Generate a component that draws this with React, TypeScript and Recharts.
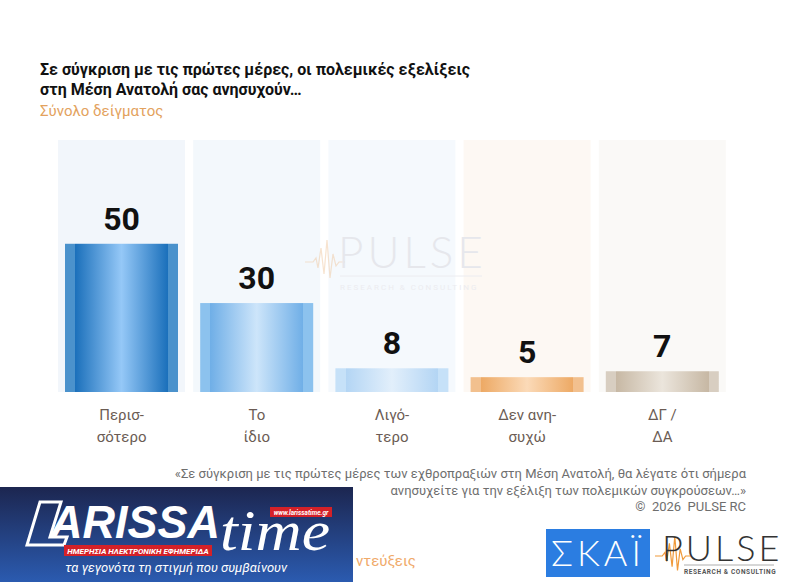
import React from "react";
import { BarChart, Bar, XAxis, YAxis, LabelList } from "recharts";

// answer categories (line break = \n) and percentages
const categories = ["Περισ-\nσότερο", "Το\nίδιο", "Λιγό-\nτερο", "Δεν ανη-\nσυχώ", "ΔΓ /\nΔΑ"];
const values = [50, 30, 8, 5, 7];

const title1 = "Σε σύγκριση με τις πρώτες μέρες, οι πολεμικές εξελίξεις";
const title2 = "στη Μέση Ανατολή σας ανησυχούν…";
const subtitle = "Σύνολο δείγματος";
const note1 = "«Σε σύγκριση με τις πρώτες μέρες των εχθροπραξιών στη Μέση Ανατολή, θα λέγατε ότι σήμερα";
const note2 = "ανησυχείτε για την εξέλιξη των πολεμικών συγκρούσεων…»";
const copyright = "©  2026  PULSE RC";

// per-bar palette: column background, edge strip, inner dark, centre highlight
const colBg = ["#f2f6fb", "#f3f8fc", "#f5f9fd", "#fdf8f3", "#faf9f7"];
const edge = ["#4b92cc", "#8cc2ee", "#c6e1f8", "#f2c08e", "#d8cec1"];
const dark = ["#1b70bb", "#70afe7", "#b3d5f4", "#eda964", "#c7b8a4"];
const light = ["#95c8f7", "#cde5fa", "#e2effb", "#fbdab8", "#ebe5dc"];

const data = categories.map((c, i) => ({ name: c, value: values[i] }));

const FONT = "Roboto, 'Noto Sans', sans-serif";

const BarShape = (props: any) => {
  const { x, y, width, height, index } = props;
  const inset = 7;
  return <rect x={x + inset} y={y} width={width - inset * 2} height={height} fill={`url(#grad${index})`} />;
};

const BgShape = (props: any) => {
  const { x, y, width, height, index } = props;
  return <rect x={x} y={y} width={width} height={height} fill={colBg[index]} />;
};

const Tick = (props: any) => {
  const { x, y, payload } = props;
  const lines = String(payload.value).split("\n");
  return (
    <g>
      {lines.map((l, i) => (
        <text key={i} x={x} y={y + 20 + i * 22} textAnchor="middle" fontFamily={FONT} fontSize={15} fill="#6b5c54">
          {l}
        </text>
      ))}
    </g>
  );
};

const Wave = ({ x, y, s, color, opacity }: any) => {
  const pts = [
    [0, 0], [8, 0], [11, -4], [13, 6], [16, -14], [19, 12], [22, -22], [25, 16], [28, -8], [31, 4], [34, 0], [40, 0],
  ].map(([a, b]) => `${x + a * s},${y + b * s}`).join(" ");
  return <polyline points={pts} fill="none" stroke={color} strokeWidth={1.2} opacity={opacity} />;
};

export default function App() {
  return (
    <div style={{ position: "fixed", left: 0, top: 0, width: 788, height: 582, background: "#fff", overflow: "hidden", fontFamily: FONT }}>
      <div style={{ position: "absolute", left: 40, top: 60, fontSize: 16, fontWeight: 700, color: "#111", lineHeight: "20px", whiteSpace: "nowrap" }}>
        <div>{title1}</div>
        <div>{title2}</div>
      </div>
      <div style={{ position: "absolute", left: 40, top: 102, fontSize: 15, color: "#e3a25e", whiteSpace: "nowrap" }}>{subtitle}</div>

      <div style={{ position: "absolute", left: 0, top: 0 }}>
        <BarChart width={788} height={582} data={data} margin={{ top: 140, right: 58, bottom: 130, left: 54 }} barSize={127}>
          <defs>
            {values.map((_, i) => (
              <linearGradient key={i} id={`grad${i}`} x1="0" y1="0" x2="1" y2="0">
                <stop offset="0" stopColor={edge[i]} />
                <stop offset="0.09" stopColor={edge[i]} />
                <stop offset="0.091" stopColor={dark[i]} />
                <stop offset="0.5" stopColor={light[i]} />
                <stop offset="0.909" stopColor={dark[i]} />
                <stop offset="0.91" stopColor={edge[i]} />
                <stop offset="1" stopColor={edge[i]} />
              </linearGradient>
            ))}
          </defs>
          <XAxis dataKey="name" axisLine={false} tickLine={false} height={60} interval={0} tick={<Tick />} />
          <YAxis hide domain={[0, 85]} />
          <Bar dataKey="value" isAnimationActive={false} shape={<BarShape />} background={<BgShape />}>
            <LabelList dataKey="value" position="top" offset={14} fontFamily={FONT} fontSize={32} fontWeight={700} fill="#111" />
          </Bar>
        </BarChart>
      </div>

      {/* watermark + logos */}
      <svg width={788} height={582} style={{ position: "absolute", left: 0, top: 0, pointerEvents: "none" }}>
        <Wave x={305} y={262} s={1} color="#f0c8a0" opacity={0.5} />
        <text x={338} y={268} fontFamily="Lato, sans-serif" fontWeight={300} fontSize={44} letterSpacing={4} fill="#e6e7ec">PULSE</text>
        <line x1={340} y1={276} x2={482} y2={276} stroke="#ececf0" strokeWidth={1} />
        <text x={340} y={290} fontFamily={FONT} fontSize={8} letterSpacing={2} fill="#ececf0">RESEARCH &amp; CONSULTING</text>

        <text x={746} y={478} textAnchor="end" fontFamily={FONT} fontSize={13} fill="#6e6e6e">{note1}</text>
        <text x={746} y={495} textAnchor="end" fontFamily={FONT} fontSize={13} fill="#6e6e6e">{note2}</text>
        <text x={746} y={511} textAnchor="end" fontFamily={FONT} fontSize={13} fill="#6e6e6e" style={{ whiteSpace: "pre" }}>{copyright}</text>

        <defs>
          <linearGradient id="lt" x1="0" y1="0" x2="0" y2="1">
            <stop offset="0" stopColor="#1c2650" />
            <stop offset="1" stopColor="#2b5bb0" />
          </linearGradient>
        </defs>
        <rect x={0} y={487} width={353} height={95} fill="url(#lt)" />
        <path d="M40 502 L61 502 L50 537 L67 537 L64 545 L27 545 Z" fill="none" stroke="#fff" strokeWidth={3} />
        <text x={50} y={538} fontFamily="'Liberation Sans', sans-serif" fontStyle="italic" fontWeight={700} fontSize={46} fill="#fff" textLength={170} lengthAdjust="spacingAndGlyphs">ARISSA</text>
        <text x={220} y={550} fontFamily="'Liberation Serif', serif" fontStyle="italic" fontSize={58} fill="#fff" textLength={110} lengthAdjust="spacingAndGlyphs">time</text>
        <rect x={270} y={507} width={62} height={10} fill="#d42128" />
        <text x={301} y={514.5} textAnchor="middle" fontFamily={FONT} fontStyle="italic" fontWeight={700} fontSize={6.5} fill="#fff">www.larissatime.gr</text>
        <rect x={64} y={545} width={148} height={11} fill="#d42128" />
        <text x={138} y={553.5} textAnchor="middle" fontFamily={FONT} fontStyle="italic" fontWeight={700} fontSize={8} fill="#fff">ΗΜΕΡΗΣΙΑ ΗΛΕΚΤΡΟΝΙΚΗ ΕΦΗΜΕΡΙΔΑ</text>
        <text x={176} y={572} textAnchor="middle" fontFamily={FONT} fontStyle="italic" fontSize={13} fill="#fff">τα γεγονότα τη στιγμή που συμβαίνουν</text>
        <text x={356} y={566} fontFamily={FONT} fontSize={15} fill="#f0aa6a">ντεύξεις</text>

        <rect x={546} y={529} width={104} height={48} fill="#2b7de1" />
        <text x={598} y={566} textAnchor="middle" fontFamily="Lato, sans-serif" fontWeight={300} fontSize={36} letterSpacing={4} fill="#fff">ΣΚΑΪ</text>

        <Wave x={655} y={556} s={0.9} color="#f09a3a" opacity={1} />
        <text x={662} y={561} fontFamily="Lato, sans-serif" fontWeight={300} fontSize={36} letterSpacing={3} fill="#333">PULSE</text>
        <line x1={684} y1={565} x2={774} y2={565} stroke="#999" strokeWidth={0.8} />
        <text x={684} y={574} fontFamily={FONT} fontWeight={700} fontSize={6.5} letterSpacing={0.6} fill="#555">RESEARCH &amp; CONSULTING</text>
      </svg>
    </div>
  );
}
